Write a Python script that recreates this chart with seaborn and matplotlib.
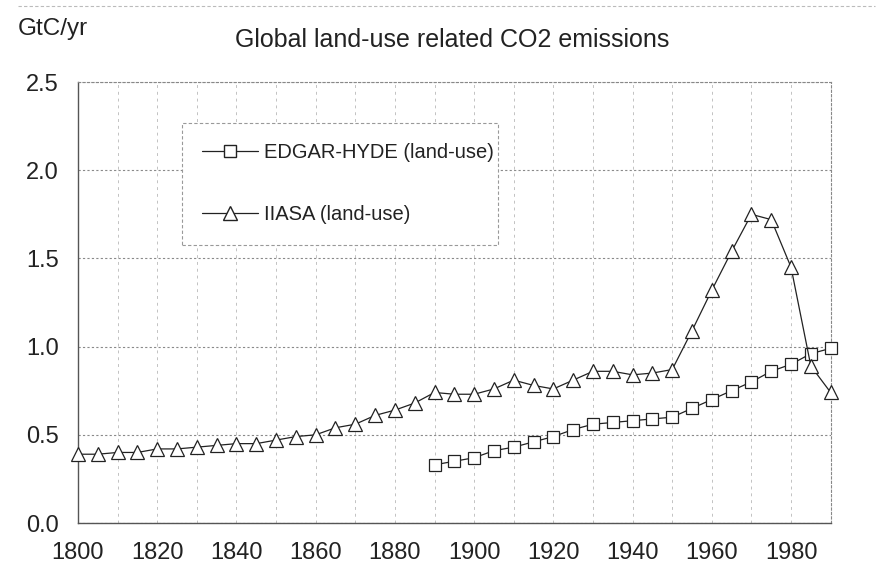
import matplotlib
matplotlib.use("Agg")
import matplotlib.pyplot as plt
import seaborn as sns
import pandas as pd
from matplotlib.lines import Line2D

edgar_years = [1890, 1895, 1900, 1905, 1910, 1915, 1920, 1925, 1930, 1935, 1940,
               1945, 1950, 1955, 1960, 1965, 1970, 1975, 1980, 1985, 1990]
edgar_values = [0.33, 0.35, 0.37, 0.41, 0.43, 0.46, 0.49, 0.53, 0.56, 0.57, 0.58,
                0.59, 0.60, 0.65, 0.70, 0.75, 0.80, 0.86, 0.90, 0.96, 0.99]

iiasa_years = [1800, 1805, 1810, 1815, 1820, 1825, 1830, 1835, 1840, 1845, 1850,
               1855, 1860, 1865, 1870, 1875, 1880, 1885, 1890, 1895, 1900, 1905,
               1910, 1915, 1920, 1925, 1930, 1935, 1940, 1945, 1950, 1955, 1960,
               1965, 1970, 1975, 1980, 1985, 1990]
iiasa_values = [0.39, 0.39, 0.40, 0.40, 0.42, 0.42, 0.43, 0.44, 0.45, 0.45, 0.47,
                0.49, 0.50, 0.54, 0.56, 0.61, 0.64, 0.68, 0.74, 0.73, 0.73, 0.76,
                0.81, 0.78, 0.76, 0.81, 0.86, 0.86, 0.84, 0.85, 0.87, 1.09, 1.32,
                1.54, 1.75, 1.72, 1.45, 0.89, 0.74]

series_names = ["EDGAR-HYDE (land-use)", "IIASA (land-use)"]
x_ticks = [1800, 1820, 1840, 1860, 1880, 1900, 1920, 1940, 1960, 1980]
y_ticks = [0.0, 0.5, 1.0, 1.5, 2.0, 2.5]
title = "Global land-use related CO2 emissions"
unit_label = "GtC/yr"

sns.set_style("white")
plt.rcParams["font.family"] = ["Liberation Sans", "DejaVu Sans"]

fig = plt.figure(figsize=(8.79, 5.86), dpi=100)
ax = fig.add_axes([0.0887, 0.1075, 0.8563, 0.7525])

df_e = pd.DataFrame({"year": edgar_years, "value": edgar_values})
df_i = pd.DataFrame({"year": iiasa_years, "value": iiasa_values})

sns.lineplot(data=df_e, x="year", y="value", ax=ax, color="#222222", linewidth=0.9,
             marker="s", markersize=8.5, markerfacecolor="white",
             markeredgecolor="#222222", markeredgewidth=0.9, clip_on=False, zorder=5)
sns.lineplot(data=df_i, x="year", y="value", ax=ax, color="#222222", linewidth=0.9,
             marker="^", markersize=9.5, markerfacecolor="white",
             markeredgecolor="#222222", markeredgewidth=0.9, clip_on=False, zorder=5)

ax.set_xlim(1800, 1990)
ax.set_ylim(0, 2.5)
ax.set_xticks(x_ticks)
ax.set_yticks(y_ticks)
ax.set_yticklabels([f"{v:.1f}" for v in y_ticks])
ax.set_xticks(range(1810, 1990, 10), minor=True)
ax.tick_params(axis="both", which="major", labelsize=17, colors="#222222",
               length=4, width=0.8, direction="out", pad=10)
ax.tick_params(axis="x", which="minor", length=0)
ax.set_xlabel("")
ax.set_ylabel("")

ax.grid(True, axis="y", which="major", color="#8a8a8a", linestyle=(0, (2, 2)), linewidth=0.8)
ax.grid(True, axis="x", which="both", color="#c2c2c2", linestyle=(0, (3, 4)), linewidth=0.7)

for side in ["left", "bottom"]:
    ax.spines[side].set_color("#555555")
    ax.spines[side].set_linewidth(1.0)
for side in ["top", "right"]:
    ax.spines[side].set_visible(True)
    ax.spines[side].set_color("#888888")
    ax.spines[side].set_linewidth(0.8)
    ax.spines[side].set_linestyle((0, (2, 2)))

handles = [
    Line2D([], [], color="#222222", linewidth=0.9, marker="s", markersize=8.5,
           markerfacecolor="white", markeredgecolor="#222222"),
    Line2D([], [], color="#222222", linewidth=0.9, marker="^", markersize=9.5,
           markerfacecolor="white", markeredgecolor="#222222"),
]
leg = ax.legend(handles, series_names, loc="upper left",
                bbox_to_anchor=(0.138, 0.907, 0.42, 0.0), mode="expand",
                fontsize=14.5, frameon=True, fancybox=False, framealpha=1.0,
                edgecolor="#999999", handlelength=2.8, handletextpad=0.3,
                labelspacing=2.15, borderpad=1.0, borderaxespad=0.0)
leg.get_frame().set_linestyle((0, (3, 2)))
leg.get_frame().set_linewidth(0.8)
leg.set_zorder(10)
for t in leg.get_texts():
    t.set_color("#222222")

fig.text(0.514, 0.920, title, ha="center", va="baseline", fontsize=18, color="#222222")
fig.text(0.020, 0.940, unit_label, ha="left", va="baseline", fontsize=17.5, color="#222222")

fig.add_artist(Line2D([0.02, 0.995], [0.99, 0.99], transform=fig.transFigure,
                      color="#bbbbbb", linewidth=0.8, linestyle=(0, (3, 2))))

fig.savefig("out.png", dpi=100, facecolor="white")
